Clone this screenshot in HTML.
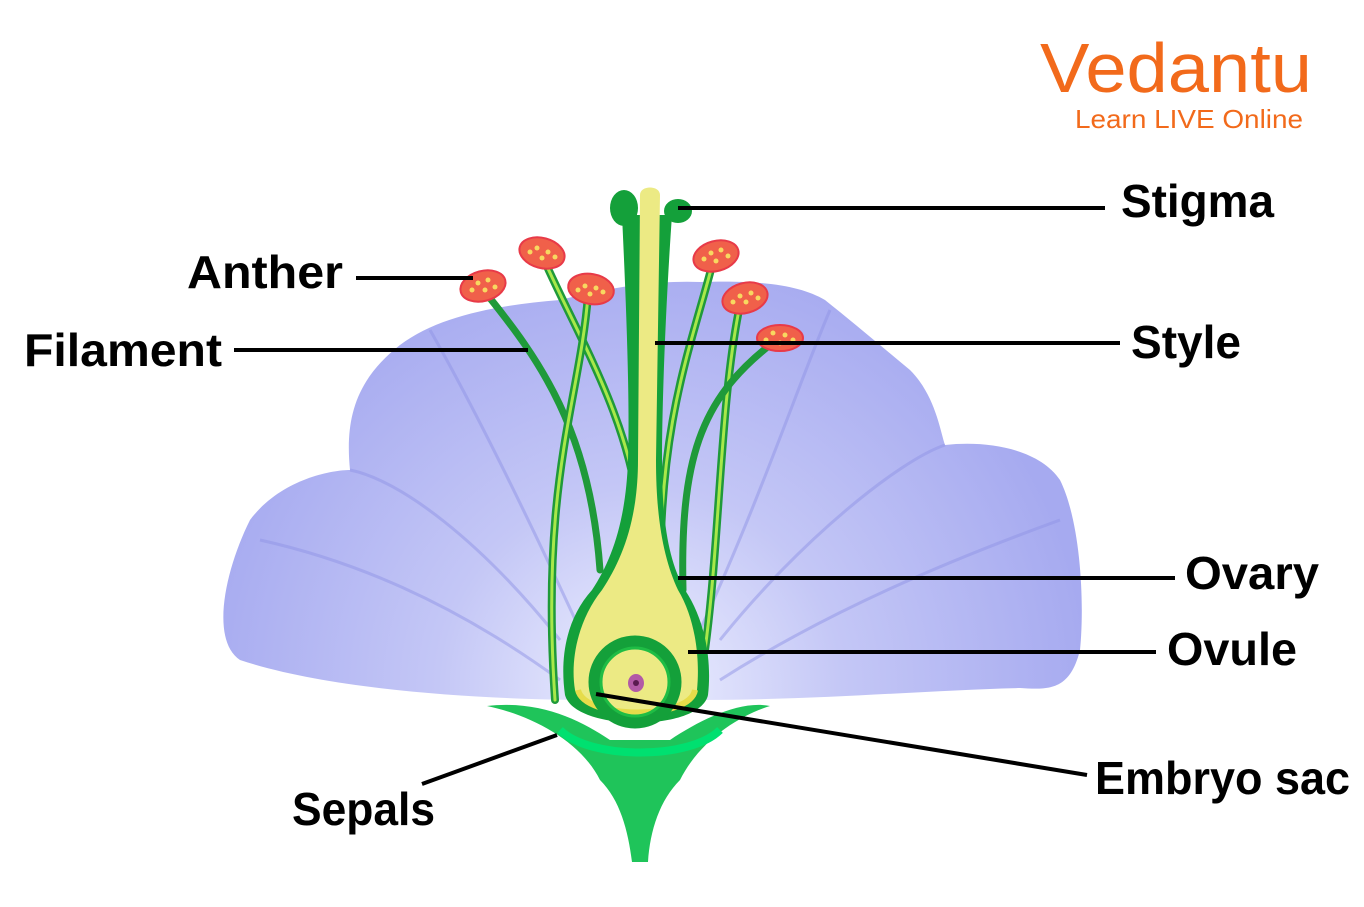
<!DOCTYPE html>
<html><head><meta charset="utf-8"><style>
body{margin:0;background:#fff;}
svg{display:block}
.l{font-family:"Liberation Sans",sans-serif;font-weight:bold;font-size:46px;fill:#000}
</style></head><body>
<svg width="1364" height="907" viewBox="0 0 1364 907" xmlns="http://www.w3.org/2000/svg">
<defs>
<radialGradient id="pg" cx="640" cy="690" r="450" gradientUnits="userSpaceOnUse">
<stop offset="0" stop-color="#eef0ff"/><stop offset="0.45" stop-color="#c4c7f6"/><stop offset="1" stop-color="#a6aaf0"/>
</radialGradient>
</defs>
<path d="M600,700 C480,700 330,690 240,660 C210,640 225,570 250,520 C280,480 330,470 350,470 C345,420 355,380 400,345 C440,315 500,305 560,300 C600,290 650,280 700,282 C760,280 800,285 825,300 C850,320 880,345 910,370 C935,395 940,430 945,445 C990,440 1040,450 1060,480 C1080,520 1085,600 1080,650 C1070,690 1050,690 1020,688 C930,690 820,700 700,700 Z" fill="url(#pg)"/>
<path d="M350,470 C400,480 480,540 560,640 M945,445 C900,460 800,540 720,640 M430,330 C470,400 520,500 580,630 M830,310 C800,380 760,500 700,630 M260,540 C350,560 450,600 560,680 M1060,520 C950,560 830,610 720,680" stroke="#8f93e6" stroke-width="3" fill="none" opacity="0.5"/>
<g fill="none" stroke-linecap="round">
<path d="M485,292 C540,360 590,430 600,570" stroke="#1f9a3a" stroke-width="7"/>
<path d="M545,262 C580,340 630,420 640,520" stroke="#1f9a3a" stroke-width="8"/><path d="M545,262 C580,340 630,420 640,520" stroke="#a8e84a" stroke-width="3"/>
<path d="M588,295 C580,400 540,480 555,700" stroke="#1f9a3a" stroke-width="8"/><path d="M588,295 C580,400 540,480 555,700" stroke="#a8e84a" stroke-width="3"/>
<path d="M713,262 C690,350 660,420 660,580" stroke="#1f9a3a" stroke-width="8"/><path d="M713,262 C690,350 660,420 660,580" stroke="#a8e84a" stroke-width="3"/>
<path d="M740,305 C720,400 720,540 705,650" stroke="#1f9a3a" stroke-width="8"/><path d="M740,305 C720,400 720,540 705,650" stroke="#a8e84a" stroke-width="3"/>
<path d="M770,345 C700,400 680,460 683,590" stroke="#1f9a3a" stroke-width="7"/>
</g>
<path d="M487,706 C540,700 580,720 610,740 L670,740 C700,720 740,700 770,706 C740,715 700,740 680,780 C660,800 650,830 648,862 L632,862 C628,830 620,800 600,780 C580,740 530,715 487,706 Z" fill="#1fc45a"/>
<path d="M560,730 C590,760 690,760 720,730" stroke="#00e070" stroke-width="8" fill="none"/>
<!-- pistil -->
<path d="M622,215 C626,300 630,400 628,460 C626,520 612,560 592,590 C565,620 560,660 565,695 C575,732 700,732 708,695 C712,660 705,620 685,590 C668,560 662,520 662,460 C662,400 666,300 672,215 Z" fill="#14a03a"/>
<ellipse cx="624" cy="208" rx="14" ry="18" fill="#14a03a"/>
<ellipse cx="678" cy="211" rx="14" ry="12" fill="#14a03a"/>
<path d="M640,195 C640,185 660,185 660,195 L656,460 C656,520 664,560 678,590 C696,620 700,660 697,690 C690,720 585,720 575,690 C570,660 578,620 602,590 C622,560 638,520 638,460 Z" fill="#ecea84"/>
<path d="M578,690 C585,720 690,720 695,690" stroke="#e6dc4a" stroke-width="6" fill="none"/>
<circle cx="635" cy="682" r="40" fill="none" stroke="#14a03a" stroke-width="13"/>
<circle cx="635" cy="682" r="34" fill="none" stroke="#1fbd45" stroke-width="3"/>
<ellipse cx="636" cy="683" rx="8" ry="9" fill="#b25aa6"/><circle cx="636" cy="683" r="3" fill="#5a1a50"/>
<g fill="#f0604a" stroke="#e83a48" stroke-width="2">
<ellipse cx="483" cy="286" rx="23" ry="15" transform="rotate(-15 483 286)"/>
<ellipse cx="542" cy="253" rx="23" ry="15" transform="rotate(15 542 253)"/>
<ellipse cx="591" cy="289" rx="23" ry="15" transform="rotate(10 591 289)"/>
<ellipse cx="716" cy="256" rx="23" ry="15" transform="rotate(-15 716 256)"/>
<ellipse cx="745" cy="298" rx="23" ry="15" transform="rotate(-15 745 298)"/>
<ellipse cx="780" cy="338" rx="23" ry="13"/>
</g>
<g fill="#f8d860">
<circle cx="478" cy="283" r="2.5"/><circle cx="488" cy="280" r="2.5"/><circle cx="485" cy="290" r="2.5"/><circle cx="495" cy="287" r="2.5"/><circle cx="472" cy="290" r="2.5"/>
<circle cx="537" cy="248" r="2.5"/><circle cx="548" cy="252" r="2.5"/><circle cx="542" cy="258" r="2.5"/><circle cx="555" cy="257" r="2.5"/><circle cx="530" cy="252" r="2.5"/>
<circle cx="585" cy="286" r="2.5"/><circle cx="596" cy="288" r="2.5"/><circle cx="590" cy="294" r="2.5"/><circle cx="603" cy="292" r="2.5"/><circle cx="578" cy="290" r="2.5"/>
<circle cx="711" cy="253" r="2.5"/><circle cx="721" cy="250" r="2.5"/><circle cx="716" cy="261" r="2.5"/><circle cx="728" cy="256" r="2.5"/><circle cx="704" cy="259" r="2.5"/>
<circle cx="740" cy="296" r="2.5"/><circle cx="751" cy="293" r="2.5"/><circle cx="746" cy="302" r="2.5"/><circle cx="758" cy="298" r="2.5"/><circle cx="733" cy="302" r="2.5"/>
<circle cx="773" cy="333" r="2.5"/><circle cx="785" cy="335" r="2.5"/><circle cx="780" cy="343" r="2.5"/><circle cx="793" cy="340" r="2.5"/><circle cx="766" cy="340" r="2.5"/>
</g>
<g stroke="#000" stroke-width="4" fill="none">
<line x1="678" y1="208" x2="1105" y2="208"/>
<line x1="356" y1="278" x2="473" y2="278"/>
<line x1="234" y1="350" x2="528" y2="350"/>
<line x1="655" y1="343" x2="1120" y2="343"/>
<line x1="678" y1="578" x2="1175" y2="578"/>
<line x1="688" y1="652" x2="1156" y2="652"/>
<line x1="596" y1="694" x2="1087" y2="775"/>
<line x1="422" y1="784" x2="557" y2="735"/>
</g>
<text class="l" x="1121" y="217" textLength="153" lengthAdjust="spacingAndGlyphs">Stigma</text>
<text class="l" x="187" y="288" textLength="156" lengthAdjust="spacingAndGlyphs">Anther</text>
<text class="l" x="24" y="366" textLength="198" lengthAdjust="spacingAndGlyphs">Filament</text>
<text class="l" x="1131" y="358" textLength="110" lengthAdjust="spacingAndGlyphs">Style</text>
<text class="l" x="1185" y="589" textLength="134" lengthAdjust="spacingAndGlyphs">Ovary</text>
<text class="l" x="1167" y="665" textLength="130" lengthAdjust="spacingAndGlyphs">Ovule</text>
<text class="l" x="1095" y="794" textLength="255" lengthAdjust="spacingAndGlyphs">Embryo sac</text>
<text class="l" x="292" y="825" textLength="143" lengthAdjust="spacingAndGlyphs">Sepals</text>
<text x="1040" y="92" font-family="Liberation Sans,sans-serif" font-size="70" fill="#f26a1b" textLength="272" lengthAdjust="spacingAndGlyphs">Vedantu</text>
<text x="1075" y="128" font-family="Liberation Sans,sans-serif" font-size="26" fill="#f26a1b" textLength="228" lengthAdjust="spacingAndGlyphs">Learn LIVE Online</text>
</svg>
</body></html>
